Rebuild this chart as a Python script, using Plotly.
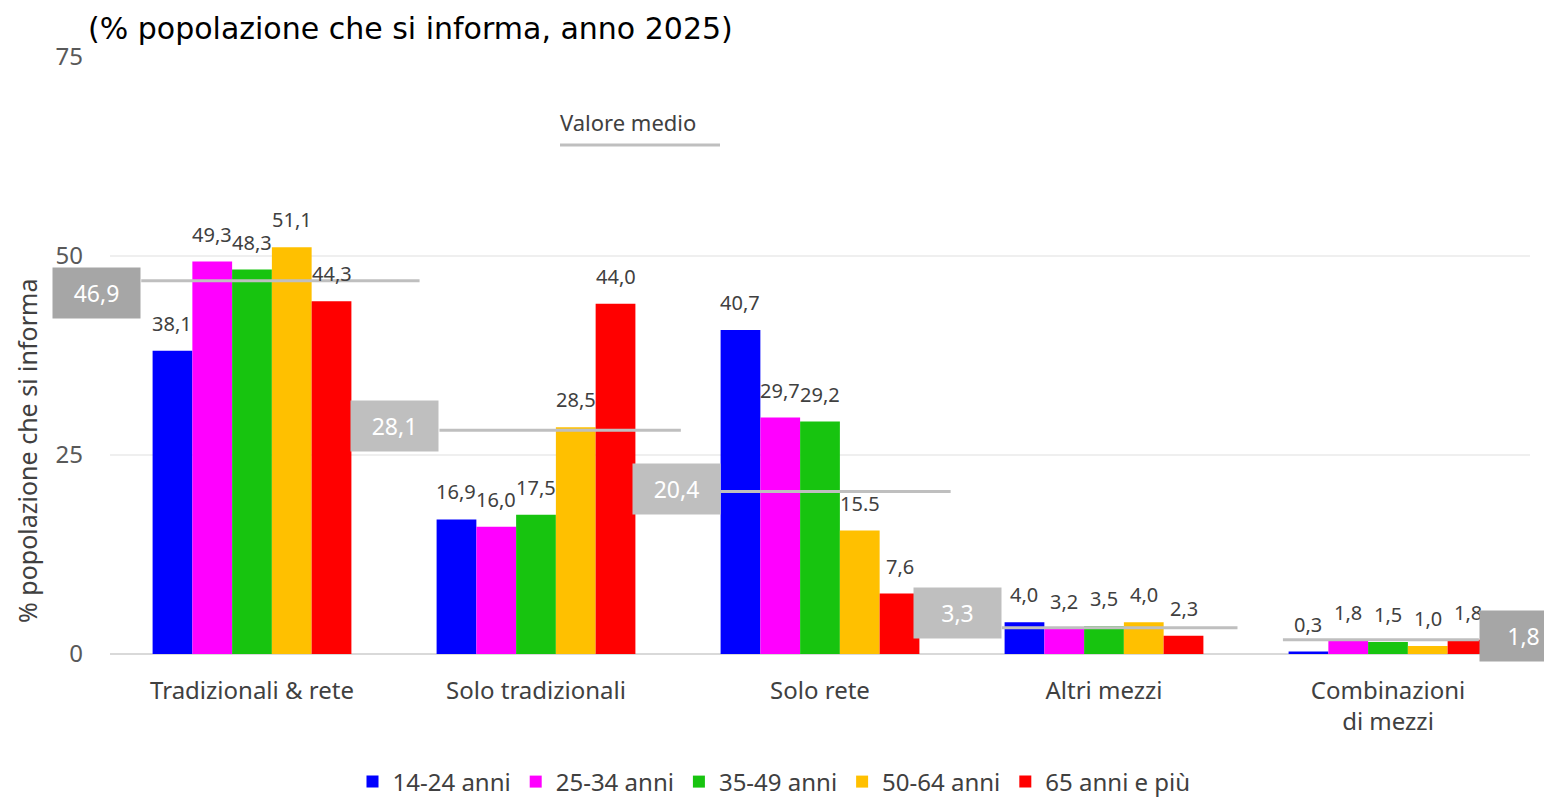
import plotly.graph_objects as go

# ---------------- data ----------------
categories = ["Tradizionali & rete", "Solo tradizionali", "Solo rete", "Altri mezzi", "Combinazioni<br>di mezzi"]
series_names = ["14-24 anni", "25-34 anni", "35-49 anni", "50-64 anni", "65 anni e più"]
v_14_24 = [38.1, 16.9, 40.7, 4.0, 0.3]
v_25_34 = [49.3, 16.0, 29.7, 3.2, 1.8]
v_35_49 = [48.3, 17.5, 29.2, 3.5, 1.5]
v_50_64 = [51.1, 28.5, 15.5, 4.0, 1.0]
v_65_piu = [44.3, 44.0, 7.6, 2.3, 1.8]
valore_medio = [46.9, 28.1, 20.4, 3.3, 1.8]
label_50_64 = ["51,1", "28,5", "15.5", "4,0", "1,0"]  # as printed in the source
y_ticks = [0, 25, 50, 75]

series_values = [v_14_24, v_25_34, v_35_49, v_50_64, v_65_piu]

# ---------------- style ----------------
colors = ["#0000FF", "#FF00FF", "#17C40F", "#FFC000", "#FF0000"]
FONT = "Noto Sans"
TXT = "#404040"
BARGAP = 0.30
W, H = 1544, 800
ML, MR, MT, MB = 110, 14, 57, 146
PW, PH = W - ML - MR, H - MT - MB
line_start_off = [-0.39, -0.34, -0.35, -0.36, -0.37]
line_end_off = [0.59, 0.51, 0.46, 0.47, 0.32]
box_colors = ["#A6A6A6", "#BFBFBF", "#BFBFBF", "#BFBFBF", "#A6A6A6"]
box_side = ["left", "left", "left", "left", "right"]
box_yshift = [-12, 4, 3, 15, 4]


def px_x(p):  # page pixel -> paper fraction
    return (p - ML) / PW


def px_y(p):
    return (H - MB - p) / PH


def fmt(v):
    return f"{v:.1f}".replace(".", ",")


labels = [[fmt(v) for v in s] for s in series_values]
labels[3] = label_50_64

x_idx = list(range(len(categories)))
fig = go.Figure()
for name, vals, col in zip(series_names, series_values, colors):
    fig.add_trace(go.Bar(x=x_idx, y=vals, name=name, marker=dict(color=col, line=dict(width=0))))

n = len(series_names)
bw = (1 - BARGAP) / n
annotations = []
for j, (vals, labs) in enumerate(zip(series_values, labels)):
    for i, (v, t) in enumerate(zip(vals, labs)):
        annotations.append(dict(x=i + bw * (j - (n - 1) / 2), y=v, xref="x", yref="y", text=t,
                                showarrow=False, yanchor="bottom", yshift=12,
                                font=dict(family=FONT, size=20, color=TXT)))

shapes = []
for i, m in enumerate(valore_medio):
    x0 = i + line_start_off[i]
    x1 = i + line_end_off[i]
    shapes.append(dict(type="line", xref="x", yref="y", x0=x0, x1=x1, y0=m, y1=m,
                       line=dict(color="#BFBFBF", width=3), layer="above"))
    if box_side[i] == "left":
        ax, anch = x0, "right"
    else:
        ax, anch = x1, "left"
    annotations.append(dict(x=ax, y=m, xref="x", yref="y", text=fmt(m), showarrow=False,
                            xanchor=anch, yanchor="middle", yshift=box_yshift[i],
                            width=81, height=44, bgcolor=box_colors[i], borderpad=3,
                            font=dict(family=FONT, size=23, color="white")))

# legend-like "Valore medio"
annotations.append(dict(x=px_x(628), y=px_y(122), xref="paper", yref="paper",
                        text="Valore medio", showarrow=False, xanchor="center", yanchor="middle",
                        font=dict(family=FONT, size=22, color=TXT)))
shapes.append(dict(type="line", xref="paper", yref="paper",
                   x0=px_x(560), x1=px_x(720), y0=px_y(145), y1=px_y(145),
                   line=dict(color="#BFBFBF", width=3)))

# title
annotations.append(dict(x=px_x(86), y=px_y(28), xref="paper", yref="paper",
                        text="(% popolazione che si informa, anno 2025)", showarrow=False,
                        xanchor="left", yanchor="middle",
                        font=dict(family="DejaVu Sans", size=30, color="#000000")))
# y-axis title
annotations.append(dict(x=px_x(27), y=px_y(451), xref="paper", yref="paper",
                        text="% popolazione che si informa", showarrow=False, textangle=-90,
                        xanchor="center", yanchor="middle",
                        font=dict(family=FONT, size=25, color=TXT)))

fig.update_layout(
    width=W, height=H, autosize=False,
    margin=dict(l=ML, r=MR, t=MT, b=MB, autoexpand=False),
    paper_bgcolor="white", plot_bgcolor="white",
    barmode="group", bargap=BARGAP, bargroupgap=0,
    font=dict(family=FONT, color=TXT),
    annotations=annotations, shapes=shapes,
    legend=dict(orientation="h", x=px_x(774), xanchor="center",
                y=px_y(782), yanchor="middle",
                font=dict(family=FONT, size=24, color=TXT), traceorder="normal"),
    xaxis=dict(tickmode="array", tickvals=x_idx, ticktext=categories, range=[-0.5, 4.5],
               showgrid=False, zeroline=False, showline=False, ticks="", tickangle=0,
               automargin=False,
               tickfont=dict(family=FONT, size=24, color=TXT), ticklabelstandoff=20),
    yaxis=dict(range=[0, 75], tickvals=y_ticks, showgrid=True, gridcolor="#EFEFEF", gridwidth=2,
               zeroline=True, zerolinecolor="#D9D9D9", zerolinewidth=2, showline=False, ticks="",
               automargin=False,
               tickfont=dict(family=FONT, size=24, color="#595959"), ticklabelstandoff=26),
)

fig.write_html("out.html", config={"displayModeBar": False},
               post_script="document.body.style.margin='0';document.body.style.overflow='hidden';")
